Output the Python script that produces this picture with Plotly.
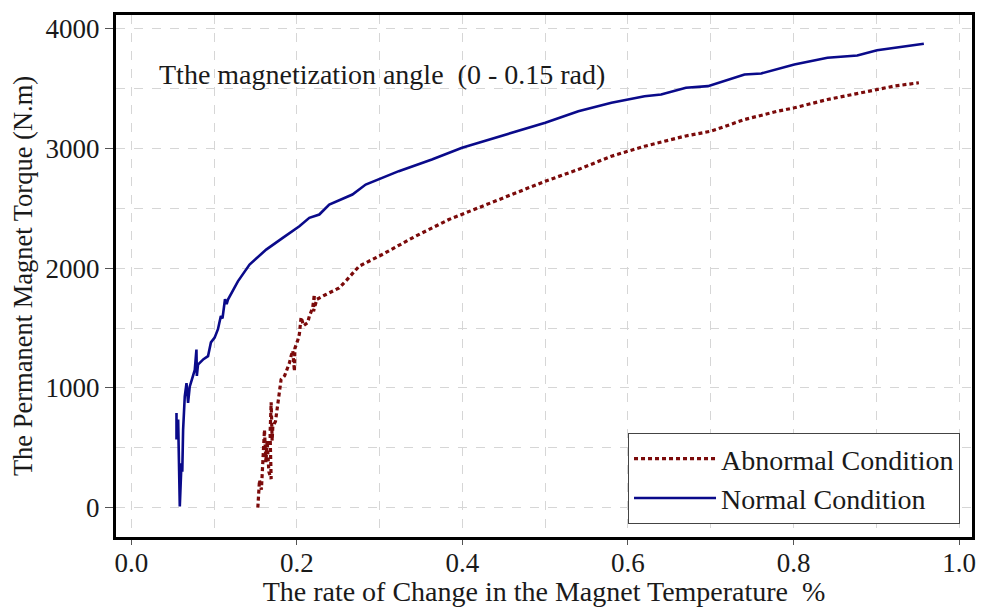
import plotly.graph_objects as go

# Normal condition (solid navy)
normal_x = [0.0544, 0.0544, 0.0564, 0.0574, 0.0584, 0.0604, 0.0614, 0.0624, 0.0644, 0.0665,
            0.0684, 0.0704, 0.0740, 0.0765, 0.0785, 0.0790, 0.0804, 0.0870, 0.0925, 0.0960,
            0.1005, 0.1045, 0.1080, 0.1100, 0.1130, 0.1150, 0.1166, 0.1230, 0.1286, 0.1427,
            0.1628, 0.1828, 0.2029, 0.2149, 0.2270, 0.2390, 0.2670, 0.2830, 0.3030, 0.3230,
            0.3630, 0.3995, 0.4196, 0.4597, 0.5000, 0.5400, 0.5800, 0.6200, 0.6400, 0.6700,
            0.6966, 0.7408, 0.7610, 0.8010, 0.8410, 0.8770, 0.9010, 0.9575]
normal_y = [790, 570, 735, 420, 10, 370, 300, 650, 930, 1040,
            875, 1010, 1100, 1150, 1320, 1100, 1195, 1240, 1265, 1380,
            1420, 1490, 1600, 1580, 1740, 1700, 1738, 1820, 1890, 2030,
            2155, 2253, 2350, 2420, 2448, 2531, 2615, 2698, 2754, 2810,
            2907, 3005, 3047, 3130, 3214, 3311, 3381, 3436, 3450, 3506,
            3520, 3617, 3626, 3701, 3757, 3776, 3820, 3874]

# Abnormal condition (dotted maroon)
abnormal_x = [0.1527, 0.1547, 0.1570, 0.1590, 0.1607, 0.1625, 0.1640, 0.1660, 0.1688, 0.1675,
              0.1688, 0.1700, 0.1708, 0.1740, 0.1768, 0.1790, 0.1808, 0.1850, 0.1909, 0.1930,
              0.1949, 0.1969, 0.1975, 0.2010, 0.2029, 0.2050, 0.2080, 0.2129, 0.2150, 0.2190,
              0.2210, 0.2200, 0.2240, 0.2350, 0.2510, 0.2600, 0.2750, 0.3030, 0.3430, 0.3835,
              0.4236, 0.4597, 0.5000, 0.5400, 0.5800, 0.6200, 0.6685, 0.7005, 0.7408, 0.7810,
              0.8010, 0.8410, 0.8810, 0.9214, 0.9515]
abnormal_y = [0, 230, 150, 420, 650, 380, 560, 300, 240, 620,
              880, 560, 680, 720, 880, 960, 1070, 1100, 1210, 1270,
              1310, 1140, 1330, 1400, 1450, 1590, 1520, 1545, 1600, 1670,
              1780, 1640, 1740, 1780, 1835, 1900, 2016, 2114, 2266, 2406,
              2517, 2615, 2726, 2824, 2935, 3018, 3102, 3144, 3241, 3311,
              3339, 3408, 3464, 3520, 3548]

x_title = "The rate of Change in the Magnet Temperature \u00a0%"
y_title = "The Permanent Magnet Torque (N.m)"
note_text = "Tthe magnetization angle \u00a0(0 - 0.15 rad)"

FONT = "Liberation Serif, Times New Roman, serif"
TXT = "#1a1a1a"
GRID = "#d6d6d6"

fig = go.Figure()
fig.add_trace(go.Scatter(
    x=abnormal_x, y=abnormal_y, mode="lines", name="Abnormal Condition",
    line=dict(color="#7b0a0a", width=3.2, dash="4px,3px"),
))
fig.add_trace(go.Scatter(
    x=normal_x, y=normal_y, mode="lines", name="Normal Condition",
    line=dict(color="#0a0a8a", width=2.6),
))

fig.add_annotation(
    x=0.031, y=3617, xref="x", yref="y", text=note_text, showarrow=False,
    xanchor="left", yanchor="middle", font=dict(family=FONT, size=28, color=TXT),
)

fig.update_layout(
    width=981, height=607,
    margin=dict(l=116, r=6, t=15, b=70),
    paper_bgcolor="white", plot_bgcolor="white",
    font=dict(family=FONT, size=27, color=TXT),
    showlegend=True,
    legend=dict(
        x=0.986, y=0.025, xanchor="right", yanchor="bottom",
        bgcolor="white", bordercolor="#444444", borderwidth=1,
        font=dict(family=FONT, size=28, color=TXT),
        itemwidth=82, tracegroupgap=0,
    ),
)

fig.update_xaxes(
    range=[-0.0187, 1.0157], tick0=0, dtick=0.2, tickformat=".1f",
    showgrid=True, gridcolor=GRID, griddash="dash", gridwidth=1,
    minor=dict(tick0=0, dtick=0.1, showgrid=True, gridcolor=GRID, griddash="dash", ticklen=0),
    showline=True, linecolor="black", linewidth=3, mirror=True,
    ticks="outside", ticklen=5, tickcolor="#555555", tickwidth=1,
    ticklabelstandoff=-5, ticklabeloverflow="allow",
    zeroline=False, automargin=False,
    title=dict(text=x_title, font=dict(family=FONT, size=28, color=TXT)),
    tickfont=dict(family=FONT, size=27, color=TXT),
)
fig.update_yaxes(
    range=[-245, 4114], tick0=0, dtick=1000,
    showgrid=True, gridcolor=GRID, griddash="dash", gridwidth=1,
    minor=dict(tick0=0, dtick=500, showgrid=True, gridcolor=GRID, griddash="dash", ticklen=0),
    showline=True, linecolor="black", linewidth=3, mirror=True,
    ticks="outside", ticklen=8, tickcolor="#555555", tickwidth=1,
    zeroline=False, automargin=True,
    title=dict(text=y_title, font=dict(family=FONT, size=26.5, color=TXT), standoff=6),
    tickfont=dict(family=FONT, size=27, color=TXT),
)

# Remove the page's default body margin so the 981x607 figure fills the window exactly.
fig.write_html(
    "out.html",
    config={"displayModeBar": False},
    post_script="document.body.style.margin='0'; document.body.style.overflow='hidden';",
)
